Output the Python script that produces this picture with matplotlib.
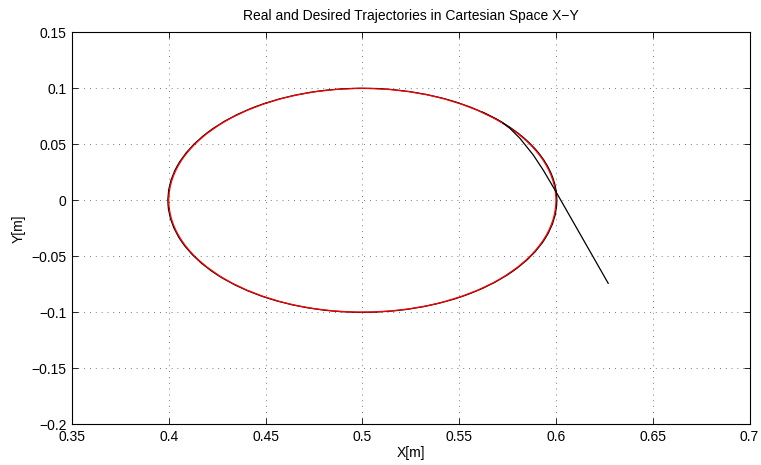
import numpy as np
import matplotlib
matplotlib.use('Agg')
import matplotlib.pyplot as plt
from matplotlib.patches import Arc

plt.rcParams['font.family'] = ['Liberation Sans', 'DejaVu Sans']

# Trayectoria deseada: circulo (centro, diametros)
desired_center = (0.5, 0.0)
desired_width = 0.2
desired_height = 0.2

# Trayectoria real: tramo de aproximacion
real_x = [0.627, 0.5995, 0.5934, 0.5883, 0.5814, 0.5762, 0.5726]
real_y = [-0.0742, 0.0092, 0.0271, 0.0405, 0.0554, 0.0644, 0.0691]
# luego sigue el circulo casi encima del deseado (vuelta completa y un poco mas)
real_width = 0.2009
real_height = 0.2003
real_arcs = [(43.6, 360.0), (0.0, 52.0)]

x_ticks = [0.35, 0.4, 0.45, 0.5, 0.55, 0.6, 0.65, 0.7]
y_ticks = [-0.2, -0.15, -0.1, -0.05, 0, 0.05, 0.1, 0.15]

fig = plt.figure(figsize=(7.61, 4.65), dpi=100)
ax = fig.add_axes([72 / 761, 41 / 465, 677.5 / 761, 391.5 / 465])

ax.plot(real_x, real_y, color='black', linewidth=0.9)
for t1, t2 in real_arcs:
    ax.add_patch(Arc(desired_center, real_width, real_height,
                     theta1=t1, theta2=t2, color='black', linewidth=0.9))
ax.add_patch(Arc(desired_center, desired_width, desired_height,
                 theta1=0, theta2=360, color='red', linewidth=0.9))

ax.set_xlim(0.35, 0.7)
ax.set_ylim(-0.2, 0.15)
ax.set_xticks(x_ticks)
ax.set_xticklabels([f'{t:g}' for t in x_ticks])
ax.set_yticks(y_ticks)
ax.set_yticklabels([f'{t:g}'.replace('-', '\u2212') for t in y_ticks])

ax.grid(True, color='black', linestyle=(0, (1, 6)), linewidth=0.6, alpha=0.7)
ax.tick_params(direction='in', length=4, width=0.6, top=True, right=True,
               labelsize=10, pad=4, colors='black')
for s in ax.spines.values():
    s.set_linewidth(0.8)

ax.set_xlabel('X[m]', fontsize=10, labelpad=2)
ax.set_ylabel('Y[m]', fontsize=10, labelpad=4)
ax.set_title('Real and Desired Trajectories in Cartesian Space X\u2212Y',
             fontsize=10, pad=9)

fig.savefig('out.png', dpi=100)
